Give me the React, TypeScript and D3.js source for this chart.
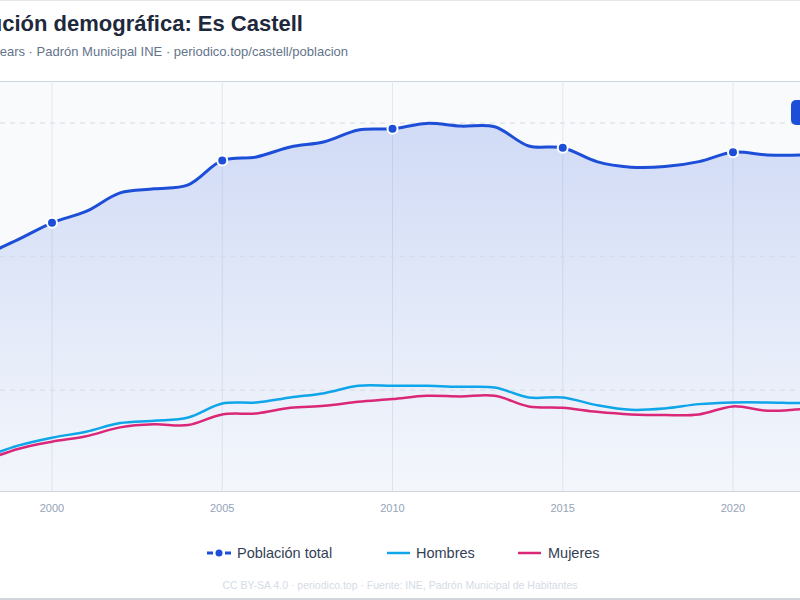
import * as d3 from 'd3'

// padrón data (years 1998-2023)
const years = [1998, 1999, 2000, 2001, 2002, 2003, 2004, 2005, 2006, 2007, 2008, 2009, 2010, 2011, 2012, 2013, 2014, 2015, 2016, 2017, 2018, 2019, 2020, 2021, 2022, 2023]
const total = [6020, 6254, 6507, 6676, 6955, 7015, 7075, 7440, 7493, 7642, 7720, 7896, 7915, 7995, 7955, 7945, 7657, 7631, 7423, 7340, 7348, 7423, 7563, 7522, 7522, 7560]
const hombres = [2990, 3169, 3288, 3378, 3507, 3542, 3592, 3801, 3816, 3891, 3955, 4065, 4065, 4065, 4050, 4040, 3891, 3891, 3776, 3706, 3727, 3791, 3816, 3816, 3806, 3815]
const mujeres = [2940, 3120, 3229, 3309, 3443, 3488, 3478, 3637, 3652, 3736, 3766, 3826, 3866, 3915, 3906, 3915, 3757, 3736, 3676, 3637, 3627, 3637, 3757, 3691, 3716, 3745]
const xTicks = [2000, 2005, 2010, 2015, 2020]
const yTicks = [4000, 6000, 8000]

const W = 800
const H = 600
const plot = { left: -60, right: 860, top: 81, bottom: 491 }

export default function App() {
    const x = d3.scaleLinear().domain([2000, 2020]).range([52, 733])
    const y = d3.scaleLinear().domain([2490, 8630]).range([plot.bottom, plot.top])

    const pts = (vals: number[]) => years.map((yr, i) => ({ yr, v: vals[i] }))
    const curve = d3.curveCatmullRom.alpha(0.5)
    const line = d3
        .line<{ yr: number; v: number }>()
        .x(d => x(d.yr))
        .y(d => y(d.v))
        .curve(curve)
    const area = d3
        .area<{ yr: number; v: number }>()
        .x(d => x(d.yr))
        .y0(plot.bottom)
        .y1(d => y(d.v))
        .curve(curve)

    const dots = pts(total).filter(d => d.yr % 5 === 0)

    return (
        <svg width={W} height={H} style={{ position: 'absolute', left: 0, top: 0, fontFamily: 'Liberation Sans, Arial, sans-serif' }}>
            <defs>
                <linearGradient id='areaGrad' gradientUnits='userSpaceOnUse' x1='0' y1={plot.top} x2='0' y2={plot.bottom}>
                    <stop offset='0%' stopColor='#1d4ed8' stopOpacity={0.2} />
                    <stop offset='100%' stopColor='#1d4ed8' stopOpacity={0.02} />
                </linearGradient>
            </defs>
            <rect x={0} y={0} width={W} height={H} fill='#ffffff' />
            <line x1={0} x2={W} y1={0.5} y2={0.5} stroke='#e5e7eb' />
            <line x1={0} x2={W} y1={H - 1} y2={H - 1} stroke='#d1d5db' strokeWidth={2} />

            {/* title, cut at the left edge as in the source */}
            <text x={303} y={31} textAnchor='end' fontSize={22} fontWeight={700} fill='#1e293b'>
                Evolución demográfica: Es Castell
            </text>
            <text x={348} y={56} textAnchor='end' fontSize={13} fill='#64748b'>
                1998–2023 · 26 years · Padrón Municipal INE · periodico.top/castell/poblacion
            </text>

            {/* plot area */}
            <rect x={plot.left} y={plot.top} width={plot.right - plot.left} height={plot.bottom - plot.top} fill='#f8fafc' />
            <line x1={plot.left} x2={plot.right} y1={plot.top + 0.5} y2={plot.top + 0.5} stroke='#cbd5e1' />
            {xTicks.map(t => (
                <line key={t} x1={x(t)} x2={x(t)} y1={plot.top} y2={plot.bottom} stroke='#e2e8f0' />
            ))}
            <path d={area(pts(total)) || ''} fill='url(#areaGrad)' />
            {yTicks.map(t => (
                <line key={t} x1={plot.left} x2={plot.right} y1={y(t)} y2={y(t)} stroke='#d5dbe5' strokeDasharray='5 5' />
            ))}
            <line x1={plot.left} x2={plot.right} y1={plot.bottom + 0.5} y2={plot.bottom + 0.5} stroke='#d1d5db' />

            <path d={line(pts(hombres)) || ''} fill='none' stroke='#0ea5e9' strokeWidth={2.5} />
            <path d={line(pts(mujeres)) || ''} fill='none' stroke='#db2777' strokeWidth={2.5} />
            <path d={line(pts(total)) || ''} fill='none' stroke='#1d4ed8' strokeWidth={3} />
            {dots.map(d => (
                <circle key={d.yr} cx={x(d.yr)} cy={y(d.v)} r={5} fill='#1d4ed8' stroke='#ffffff' strokeWidth={2} />
            ))}

            {/* button */}
            <rect x={791} y={100} width={60} height={25} rx={5} fill='#1d4ed8' />

            {xTicks.map(t => (
                <text key={t} x={x(t)} y={512} textAnchor='middle' fontSize={11} fill='#94a3b8'>
                    {t}
                </text>
            ))}

            {/* legend */}
            <g fontSize={14.5} fill='#334155'>
                <line x1={207} x2={231} y1={553} y2={553} stroke='#1d4ed8' strokeWidth={3} strokeDasharray='6 3' />
                <circle cx={219} cy={553} r={3.5} fill='#1d4ed8' />
                <text x={237} y={558}>Población total</text>
                <line x1={387} x2={410} y1={553} y2={553} stroke='#0ea5e9' strokeWidth={2.5} />
                <text x={416} y={558}>Hombres</text>
                <line x1={518} x2={541} y1={553} y2={553} stroke='#db2777' strokeWidth={2.5} />
                <text x={548} y={558}>Mujeres</text>
            </g>
            <text x={400} y={589} textAnchor='middle' fontSize={10.5} fill='#d5dbe5'>
                CC BY-SA 4.0 · periodico.top · Fuente: INE, Padrón Municipal de Habitantes
            </text>
        </svg>
    )
}
